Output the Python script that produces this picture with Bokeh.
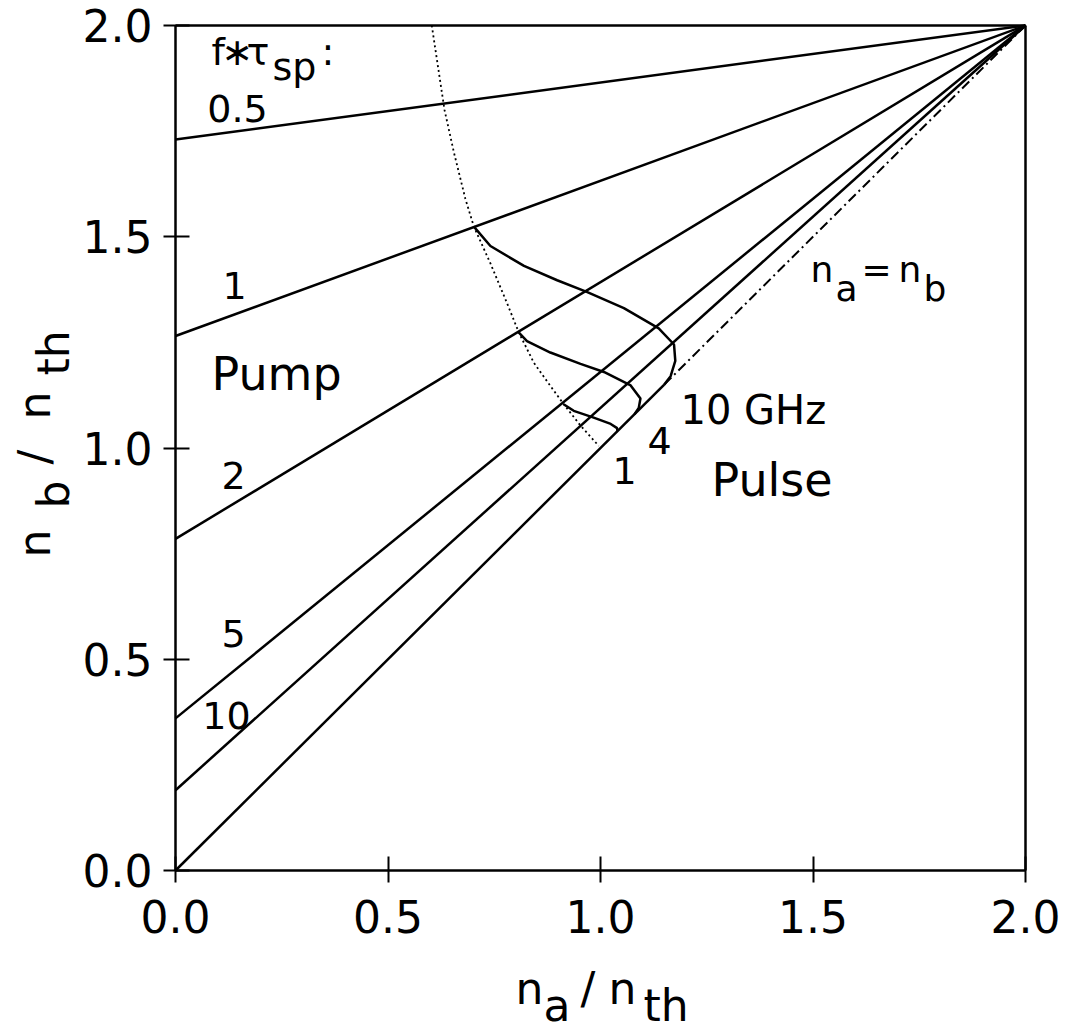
import math
from bokeh.plotting import figure
from bokeh.models import Range1d, FixedTicker, NumeralTickFormatter, Label, LinearAxis
from bokeh.embed import file_html
from bokeh.resources import INLINE

# ---------------- data ----------------
tick_values = [0.0, 0.5, 1.0, 1.5, 2.0]
axis_min = 0.0
axis_max = 2.0

# pump lines f*tau_sp : start at n_a = 0 with these n_b values, converge at (2, 2)
ftau_labels = ["0.5", "1", "2", "5", "10"]
ftau_intercepts = [1.73, 1.265, 0.785, 0.36, 0.19]
converge_x = 2.0
converge_y = 2.0

# n_a = n_b line: solid part, then dash-dot part
diag_solid_x = [0.0, 1.15]
diag_solid_y = [0.0, 1.15]
diag_dash_x = [1.15, 2.0]
diag_dash_y = [1.15, 2.0]

# pulse curves (1, 4, 10 GHz)
pulse_labels = ["1", "4", "10 GHz"]
pulse1_x = [0.914, 0.937, 0.984, 1.024, 1.039, 1.040]
pulse1_y = [1.103, 1.088, 1.072, 1.057, 1.047, 1.040]
pulse4_x = [0.808, 0.827, 0.882, 0.953, 1.008, 1.071, 1.094, 1.090, 1.080]
pulse4_y = [1.273, 1.253, 1.226, 1.199, 1.180, 1.148, 1.117, 1.095, 1.080]
pulse10_x = [0.702, 0.741, 0.820, 0.898, 0.969, 1.055, 1.137, 1.173, 1.176, 1.165, 1.150]
pulse10_y = [1.524, 1.478, 1.431, 1.397, 1.369, 1.331, 1.283, 1.245, 1.206, 1.170, 1.150]

# dotted boundary curve
dotted_x = [0.603, 0.618, 0.633, 0.655, 0.682, 0.702, 0.741, 0.780, 0.808, 0.843, 0.882, 0.914, 0.953, 0.996]
dotted_y = [2.000, 1.900, 1.800, 1.700, 1.590, 1.524, 1.437, 1.343, 1.273, 1.202, 1.147, 1.103, 1.053, 1.005]

# ---------------- geometry helpers (picture pixels -> data) ----------------
W, H = 1067, 1031


def dx(px):
    return (px - 175) / 425.0


def dy(py):
    return (870 - py) / 422.5


FONT = "DejaVu Sans"
p = figure(
    width=W, height=H,
    min_border=0, min_border_left=0, min_border_right=0,
    min_border_top=0, min_border_bottom=0,
    x_range=Range1d(dx(0), dx(W)), y_range=Range1d(dy(H), dy(0)),
    output_backend="svg", toolbar_location=None,
    background_fill_color="white", border_fill_color="white",
)
p.xgrid.visible = False
p.ygrid.visible = False
p.outline_line_color = None

AXW = 2.5
for ax in (p.xaxis[0], p.yaxis[0]):
    ax.fixed_location = axis_min
    ax.bounds = (axis_min, axis_max)
    ax.ticker = FixedTicker(ticks=tick_values)
    ax.formatter = NumeralTickFormatter(format="0.0")
    ax.major_tick_in = 14
    ax.major_tick_out = 12
    ax.minor_tick_line_color = None
    ax.axis_line_width = AXW
    ax.major_tick_line_width = 2
    ax.major_label_text_font = FONT
    ax.major_label_text_font_size = "44px"
    ax.major_label_text_color = "black"
    ax.axis_line_color = "black"
    ax.major_tick_line_color = "black"
p.xaxis[0].major_label_standoff = 17
p.yaxis[0].major_label_standoff = 11

# closing frame lines at n = 2 (top and right)
for side in ("above", "right"):
    a = LinearAxis(fixed_location=axis_max, bounds=(axis_min, axis_max),
                   ticker=FixedTicker(ticks=[]), major_tick_in=0, major_tick_out=0,
                   minor_tick_line_color=None, major_label_text_font_size="0px",
                   axis_line_width=AXW, axis_line_color="black")
    p.add_layout(a, side)

LW = 2.5
for b in ftau_intercepts:
    p.line([0.0, converge_x], [b, converge_y], line_color="black", line_width=LW)
p.line(diag_solid_x, diag_solid_y, line_color="black", line_width=LW)
p.line(diag_dash_x, diag_dash_y, line_color="black", line_width=2.0, line_dash="10 4 2 4")

for xs, ys in ((pulse1_x, pulse1_y), (pulse4_x, pulse4_y), (pulse10_x, pulse10_y)):
    p.line(xs, ys, line_color="black", line_width=LW)

p.line(dotted_x, dotted_y, line_color="black", line_width=1.8, line_dash="2 3")

# ---------------- text ----------------
SHIFT = 0.4  # em; compensates the renderer's placement of the text baseline


def lab(text, px, py, size, align="left"):
    p.add_layout(Label(x=dx(px), y=dy(py - SHIFT * size), text=text, text_font=FONT,
                       text_font_size=f"{size}px", text_align=align,
                       text_baseline="alphabetic", text_color="black"))


def vlab(text, px, py, size):
    # rotated 90 deg (reads bottom to top); px = baseline x, py = start y
    p.add_layout(Label(x=dx(px - SHIFT * size), y=dy(py), text=text, text_font=FONT,
                       text_font_size=f"{size}px", text_align="left",
                       text_baseline="alphabetic", angle=math.pi / 2,
                       text_color="black"))


# legend title f*tau_sp:
lab("f", 211, 67, 38)
lab("\u2217", 221, 67, 38)
lab("\u03c4", 246, 67, 38)
lab("sp", 272, 82, 38)
lab(":", 321, 67, 38)

# pump line labels
ftau_label_pos = [(237, 123), (234, 300), (233, 490), (233, 648), (226, 730)]
for t, (px, py) in zip(ftau_labels, ftau_label_pos):
    lab(t, px, py, 38, align="center")

lab("Pump", 211, 392, 46)
lab("Pulse", 711, 498, 46)

# pulse labels
pulse_label_pos = [(624, 485, "center"), (659, 455, "center"), (680, 425, "left")]
for t, (px, py, al) in zip(pulse_labels, pulse_label_pos):
    lab(t, px, py, 38 if t != "10 GHz" else 40, align=al)

# n_a = n_b
lab("n", 810, 283, 36)
lab("a", 835, 302, 36)
lab("=", 861, 283, 36)
lab("n", 898, 283, 36)
lab("b", 923, 302, 36)

# x axis label  n_a / n_th
lab("n", 515, 1006, 44)
lab("a", 543, 1023, 44)
lab("/", 580, 1006, 44)
lab("n", 608, 1006, 44)
lab("th", 643, 1023, 44)

# y axis label  n_b / n_th (rotated)
vlab("n", 52, 557, 44)
vlab("b", 71, 508, 44)
vlab("/", 52, 464, 44)
vlab("n", 52, 419, 44)
vlab("th", 71, 375, 44)

open("out.html", "w").write(file_html(p, INLINE))
